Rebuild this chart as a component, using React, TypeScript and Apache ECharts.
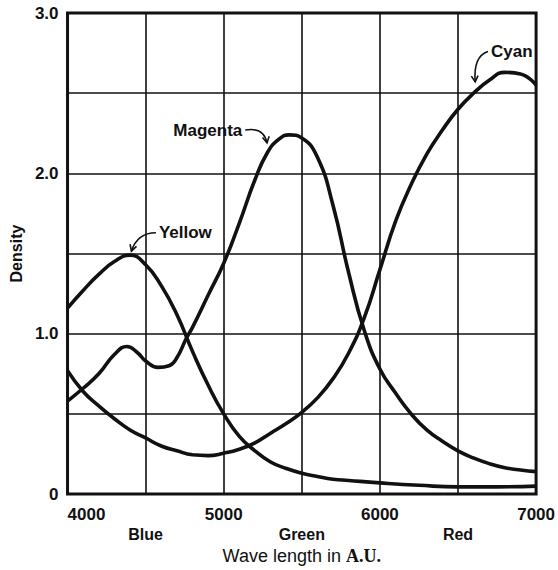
import React, { useEffect, useRef } from 'react';
import * as echarts from 'echarts';

// Wavelength (A.U.) and density values
const yellowWave = [4000, 4100, 4200, 4300, 4400, 4500, 4600, 4700, 4800, 4900, 5000, 5100, 5200, 5300, 5400, 5500, 5600, 5700, 5800, 6000, 6250, 6500, 6750, 7000];
const yellowDensity = [1.16, 1.27, 1.37, 1.45, 1.49, 1.43, 1.3, 1.12, 0.89, 0.68, 0.5, 0.36, 0.27, 0.2, 0.16, 0.13, 0.11, 0.093, 0.085, 0.07, 0.055, 0.045, 0.045, 0.05];

const magentaWave = [4000, 4100, 4200, 4300, 4380, 4450, 4500, 4580, 4650, 4700, 4760, 4800, 4900, 5000, 5100, 5200, 5280, 5350, 5420, 5500, 5600, 5700, 5800, 5900, 6000, 6100, 6200, 6300, 6400, 6500, 6600, 6700, 6800, 6900, 7000];
const magentaDensity = [0.58, 0.66, 0.75, 0.87, 0.92, 0.88, 0.83, 0.79, 0.8, 0.85, 0.97, 1.04, 1.24, 1.44, 1.69, 1.96, 2.13, 2.21, 2.24, 2.22, 2.1, 1.8, 1.38, 1.02, 0.78, 0.63, 0.5, 0.4, 0.33, 0.27, 0.225, 0.19, 0.165, 0.15, 0.14];

const cyanWave = [4000, 4100, 4200, 4300, 4400, 4500, 4600, 4700, 4800, 4900, 5000, 5100, 5200, 5300, 5400, 5500, 5600, 5700, 5800, 5900, 6000, 6100, 6200, 6300, 6400, 6500, 6600, 6700, 6800, 6900, 7000];
const cyanDensity = [0.77, 0.64, 0.55, 0.47, 0.4, 0.35, 0.3, 0.27, 0.245, 0.24, 0.255, 0.28, 0.32, 0.38, 0.44, 0.51, 0.6, 0.72, 0.88, 1.1, 1.4, 1.7, 1.93, 2.12, 2.27, 2.4, 2.5, 2.58, 2.63, 2.62, 2.55];

const xTickLabels = [4000, 5000, 6000, 7000];
const yTickLabels = [0, 1, 2, 3];
const bandLabels = ['Blue', 'Green', 'Red'];
const bandCenters = [4500, 5500, 6500];

// Annotations: label text, label anchor, arrow start, control, tip (data coords)
const annNames = ['Yellow', 'Magenta', 'Cyan'];
const annText: number[][] = [[4585, 1.63], [5119, 2.27], [6711, 2.76]];
const annAlign = ['left', 'right', 'left'];
const annStart: number[][] = [[4566, 1.63], [5138, 2.27], [6692, 2.76]];
const annCtrl: number[][] = [[4447, 1.63], [5258, 2.29], [6597, 2.73]];
const annTip: number[][] = [[4409, 1.515], [5277, 2.19], [6610, 2.57]];

const INK = '#111';
const SANS = '"Liberation Sans", Arial, sans-serif';

const zip = (xs: number[], ys: number[]) => xs.map((x, i) => [x, ys[i]]);

export default function App() {
  const ref = useRef<HTMLDivElement>(null);
  useEffect(() => {
    if (!ref.current) return;
    const chart = echarts.init(ref.current, null, { renderer: 'svg' });
    const line = (name: string, xs: number[], ys: number[]) => ({
      name,
      type: 'line',
      xAxisIndex: 0,
      yAxisIndex: 0,
      data: zip(xs, ys),
      showSymbol: false,
      smooth: 0.5,
      lineStyle: { color: INK, width: 3.6 },
      z: 5,
    });
    chart.setOption({
      animation: false,
      backgroundColor: '#fff',
      grid: { left: 62, right: 19, top: 13, bottom: 73, show: true, borderColor: INK, borderWidth: 3, backgroundColor: 'transparent', z: 10 },
      xAxis: [
        {
          type: 'value', min: 4000, max: 7000, interval: 500,
          axisLine: { show: false }, axisTick: { show: false },
          splitLine: { show: true, lineStyle: { color: INK, width: 1.6 } },
          axisLabel: {
            margin: 12, color: INK, fontSize: 17, fontWeight: 'bold', fontFamily: SANS,
            alignMinLabel: 'left',
            formatter: (v: number) => (xTickLabels.includes(v) ? String(v) : ''),
          },
        },
        {
          type: 'value', min: 4000, max: 7000, interval: 500, position: 'bottom', offset: 20,
          axisLine: { show: false }, axisTick: { show: false }, splitLine: { show: false },
          axisLabel: {
            margin: 12, color: INK, fontSize: 16, fontWeight: 'bold', fontFamily: SANS,
            formatter: (v: number) => { const i = bandCenters.indexOf(v); return i >= 0 ? bandLabels[i] : ''; },
          },
          name: 'Wave length in {au|A.U.}', nameLocation: 'middle', nameGap: 27,
          nameTextStyle: {
            color: INK, fontSize: 18, fontWeight: 'normal', fontFamily: SANS,
            rich: { au: { fontFamily: '"Liberation Serif", serif', fontWeight: 'bold', fontSize: 18, color: INK } },
          },
        },
      ],
      yAxis: {
        type: 'value', min: 0, max: 3, interval: 0.5,
        axisLine: { show: false }, axisTick: { show: false },
        splitLine: { show: true, lineStyle: { color: INK, width: 1.6 } },
        axisLabel: {
          margin: 9, color: INK, fontSize: 17, fontWeight: 'bold', fontFamily: SANS,
          formatter: (v: number) => (yTickLabels.includes(v) ? (v === 0 ? '0' : v.toFixed(1)) : ''),
        },
        name: 'Density', nameLocation: 'middle', nameGap: 38,
        nameTextStyle: { color: INK, fontSize: 16, fontWeight: 'bold', fontFamily: SANS },
      },
      series: [
        line('Yellow', yellowWave, yellowDensity),
        line('Magenta', magentaWave, magentaDensity),
        line('Cyan', cyanWave, cyanDensity),
      ],
    });

    const px = (p: number[]) => chart.convertToPixel({ seriesIndex: 0 }, p) as number[];
    const graphics: any[] = [];
    annNames.forEach((name, i) => {
      const t = px(annText[i]);
      const s = px(annStart[i]);
      const c = px(annCtrl[i]);
      const tip = px(annTip[i]);
      graphics.push({
        type: 'text', x: t[0], y: t[1], z: 20,
        style: { text: name, fill: INK, font: `bold 17px ${SANS}`, align: annAlign[i], verticalAlign: 'middle' },
      });
      graphics.push({
        type: 'bezierCurve', z: 20,
        shape: { x1: s[0], y1: s[1], cpx1: c[0], cpy1: c[1], x2: tip[0], y2: tip[1] },
        style: { stroke: INK, lineWidth: 1.6, fill: 'none' },
      });
      const a = Math.atan2(tip[1] - c[1], tip[0] - c[0]);
      const L = 7;
      const b1 = [tip[0] - L * Math.cos(a - 0.5), tip[1] - L * Math.sin(a - 0.5)];
      const b2 = [tip[0] - L * Math.cos(a + 0.5), tip[1] - L * Math.sin(a + 0.5)];
      graphics.push({
        type: 'polyline', z: 20,
        shape: { points: [b1, tip, b2] },
        style: { stroke: INK, lineWidth: 1.6, fill: 'none' },
      });
    });
    chart.setOption({ graphic: graphics });
    return () => chart.dispose();
  }, []);
  return <div ref={ref} style={{ position: 'fixed', left: 0, top: 0, width: 558, height: 570 }} />;
}
